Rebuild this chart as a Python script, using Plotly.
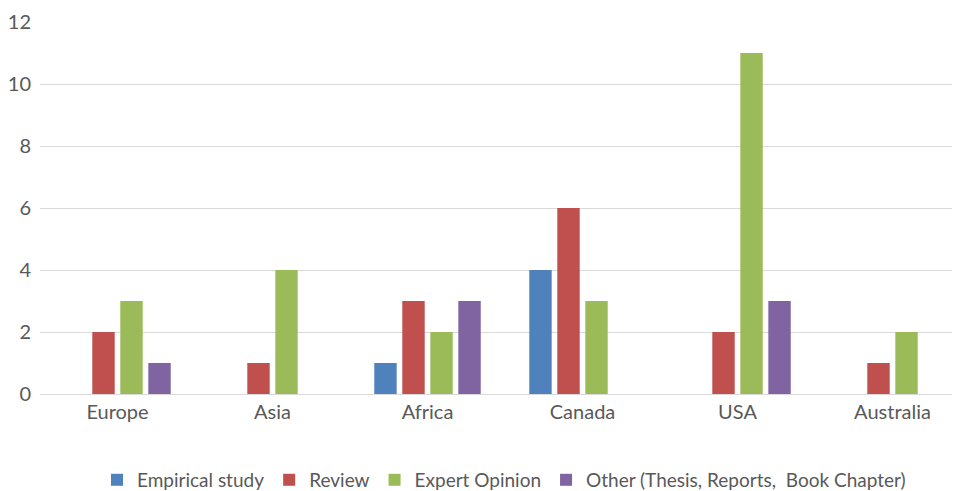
import plotly.graph_objects as go

categories = ["Europe", "Asia", "Africa", "Canada", "USA", "Australia"]
empirical = [0, 0, 1, 4, 0, 0]
review = [2, 1, 3, 6, 2, 1]
expert = [3, 4, 2, 3, 11, 2]
other = [1, 0, 3, 0, 3, 0]

series = [
    ("Empirical study", empirical, "#4F81BD"),
    ("Review", review, "#C0504D"),
    ("Expert Opinion", expert, "#9BBB59"),
    ("Other (Thesis, Reports,  Book Chapter)", other, "#8064A2"),
]

FONT = "Lato, sans-serif"

fig = go.Figure()
for name, vals, color in series:
    fig.add_trace(go.Bar(
        x=list(range(len(categories))), y=vals, name=name,
        marker=dict(color=color, line=dict(width=0)),
    ))

fig.update_layout(
    width=960, height=491,
    paper_bgcolor="white", plot_bgcolor="white",
    barmode="group", bargap=0.277, bargroupgap=0.2,
    margin=dict(l=32, r=0, t=14, b=105),
    font=dict(family=FONT, color="#595959", size=20),
    xaxis=dict(
        tickmode="array", tickvals=list(range(len(categories))), ticktext=categories,
        range=[-0.5, 5.487], showgrid=False, showline=False, zeroline=False,
        tickfont=dict(size=20, color="#595959"), ticks="",
        ticklabelstandoff=4,
    ),
    yaxis=dict(
        range=[0, 12], dtick=2, showgrid=True, gridcolor="#D9D9D9", gridwidth=1,
        zeroline=True, zerolinecolor="#D9D9D9", zerolinewidth=1,
        showline=False, ticks="", tickfont=dict(size=20, color="#595959"),
        ticklabelstandoff=8,
    ),
    legend=dict(
        orientation="h", x=0.5, xanchor="center", y=-0.231, yanchor="middle",
        font=dict(size=19, color="#595959"), itemwidth=30, traceorder="normal",
    ),
    showlegend=True,
)

fig.write_html("out.html")
